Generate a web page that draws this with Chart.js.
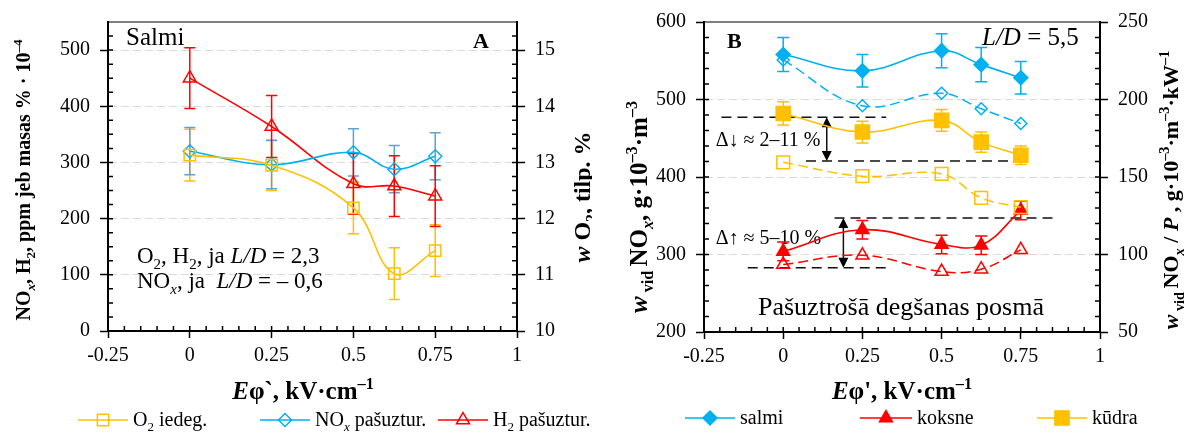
<!DOCTYPE html>
<html lang="lv">
  <head>
    <meta charset="UTF-8" />
    <title>NOx, H2, O2 un Eφ</title>
    <script src="https://cdn.jsdelivr.net/npm/chart.js"></script>
    <style>
      html, body { margin: 0; padding: 0; background: #fff; }
      .row { display: flex; width: 1184px; height: 435px; }
      .panel { width: 592px; height: 435px; }
    </style>
  </head>
  <body>
    <div class="row">
      <div class="panel"><canvas id="chartA" width="592" height="435"></canvas></div>
      <div class="panel"><canvas id="chartB" width="592" height="435"></canvas></div>
    </div>

    <script>
      // --- data ---
      const xVals = [0, 0.25, 0.5, 0.625, 0.75];
      const xTickLabels = ["-0.25", "0", "0.25", "0.5", "0.75", "1"];

      // panel A (O2 on the right axis, tilp. %)
      const o2Ignition = [13.13, 12.95, 12.19, 11.02, 11.43];
      const o2IgnitionErr = [0.46, 0.45, 0.46, 0.46, 0.46];
      const noxSelfSustained = [320, 296, 318, 288, 311];
      const noxSelfSustainedErr = [42, 43, 42, 42, 42];
      const h2SelfSustained = [450, 364, 262, 258, 240];
      const h2SelfSustainedErr = [54, 55, 54, 54, 54];

      // panel B (solid = left axis, dashed = right axis "/ P")
      const salmiMean = [558, 537, 563, 545, 528];
      const salmiErr = [22, 21, 22, 22, 21];
      const salmiPerP = [225.5, 196, 204, 194, 184.5];
      const koksneMean = [304, 332, 313, 312, 357];
      const koksneErr = [12, 12, 12, 12, 12];
      const koksnePerP = [93.5, 99.5, 89, 90.5, 103];
      const kudraMean = [482, 458, 473, 445, 428];
      const kudraErr = [15, 14, 14, 13, 12];
      const kudraPerP = [159.5, 150.5, 152, 136.5, 130.5];

      // panel B reference lines and arrows (left axis units)
      const refLineY = [477, 420.5, 347, 283];
      const refLineFrom = [-0.195, 0.072, 0.162, -0.112];
      const refLineTo = [0.325, 0.772, 0.86, 0.325];
      const arrowX = [0.1375, 0.19];
      const arrowTop = [477, 347];
      const arrowBottom = [420.5, 283];
      const deltaLabels = ["Δ↓ ≈ 2–11 %", "Δ↑ ≈ 5–10 %"];
      const deltaX = [-0.213, -0.213];
      const deltaY = [440, 314];

      const FONT = '"Liberation Serif", "Times New Roman", serif';
      const BLACK = "#000";
      const ORANGE = "#FFC000";
      const BLUE = "#00B0F0";
      const RED = "#FF0000";
      const GRID = "#D9D9D9";

      const pts = (ys) => xVals.map((x, i) => ({ x, y: ys[i] }));

      // text with sub/superscripts: [text, flags] where i = italic, _ = sub, ^ = sup
      function runFont(flags, size, bold) {
        const small = flags.includes("_") || flags.includes("^");
        const s = small ? size * 0.65 : size;
        return (flags.includes("i") ? "italic " : "") + (bold ? "bold " : "") + s.toFixed(1) + "px " + FONT;
      }
      function drawRich(ctx, t) {
        const { runs, x, y, size, bold = false, align = "left", rotate = false } = t;
        ctx.save();
        ctx.translate(x, y);
        if (rotate) ctx.rotate(-Math.PI / 2);
        let w = 0;
        runs.forEach(([s, f]) => { ctx.font = runFont(f, size, bold); w += ctx.measureText(s).width; });
        let cx = align === "center" ? -w / 2 : align === "right" ? -w : 0;
        ctx.textAlign = "left";
        ctx.textBaseline = "alphabetic";
        ctx.fillStyle = BLACK;
        runs.forEach(([s, f]) => {
          ctx.font = runFont(f, size, bold);
          const dy = f.includes("_") ? size * 0.25 : f.includes("^") ? -size * 0.4 : 0;
          ctx.fillText(s, cx, dy);
          cx += ctx.measureText(s).width;
        });
        ctx.restore();
      }

      function drawMarker(ctx, style, x, y, r, color, filled) {
        ctx.save();
        ctx.beginPath();
        if (style === "rect") {
          const s = Math.SQRT1_2 * r;
          ctx.rect(x - s, y - s, 2 * s, 2 * s);
        } else if (style === "rectRot") {
          ctx.moveTo(x - r, y); ctx.lineTo(x, y - r); ctx.lineTo(x + r, y); ctx.lineTo(x, y + r);
          ctx.closePath();
        } else {
          for (let k = 0; k < 3; k++) {
            const a = (k * 2 * Math.PI) / 3;
            const px = x + Math.sin(a) * r, py = y - Math.cos(a) * r;
            k ? ctx.lineTo(px, py) : ctx.moveTo(px, py);
          }
          ctx.closePath();
        }
        ctx.lineWidth = 1.5;
        ctx.strokeStyle = color;
        if (filled) { ctx.fillStyle = color; ctx.fill(); }
        ctx.stroke();
        ctx.restore();
      }

      function series(ys, errs, axis, color, style, r, filled, dashed, errColor) {
        return {
          data: pts(ys),
          yAxisID: axis,
          borderColor: color,
          borderWidth: dashed ? 1.5 : 1.6,
          borderDash: dashed ? [10, 5] : [],
          tension: 0.4,
          fill: false,
          pointStyle: style,
          pointRadius: r,
          pointBorderWidth: 1.5,
          pointBorderColor: color,
          pointBackgroundColor: filled ? color : "rgba(0,0,0,0)",
          errors: errs,
          errColor: errColor || color,
        };
      }

      function xAxis() {
        return {
          type: "linear",
          min: -0.25,
          max: 1,
          afterFit: (s) => { s.height = 40; },
          ticks: {
            stepSize: 0.25,
            autoSkip: false,
            maxRotation: 0,
            color: BLACK,
            padding: 6,
            font: { family: FONT, size: 20 },
            callback: (v) => xTickLabels.find((l) => Math.abs(parseFloat(l) - v) < 1e-6) ?? "",
          },
          grid: { drawOnChartArea: false, tickColor: BLACK, tickLength: 7, tickWidth: 1.5 },
          border: { color: BLACK, width: 2 },
        };
      }

      function yAxis(pos, min, max, step, width, gridOn) {
        return {
          type: "linear",
          position: pos,
          min,
          max,
          afterBuildTicks: (s) => {
            s.ticks = s.ticks.filter((t) => Math.abs(t.value / step - Math.round(t.value / step)) < 1e-6);
          },
          afterFit: (s) => { s.width = width; },
          ticks: { stepSize: step, color: BLACK, padding: 10, font: { family: FONT, size: 20 } },
          grid: {
            drawOnChartArea: gridOn,
            color: (c) => (c.tick && c.tick.value > min && c.tick.value < max ? GRID : "rgba(0,0,0,0)"),
            tickColor: BLACK,
            tickLength: 8,
            tickWidth: 1.5,
          },
          border: { color: BLACK, width: 2, dash: [8, 4] },
        };
      }

      function minorTicks(ctx, scale, step, side, area) {
        const n = Math.round((scale.max - scale.min) / step);
        ctx.beginPath();
        for (let k = 1; k < n; k++) {
          const p = scale.getPixelForValue(scale.min + k * step);
          if (side === "left") { ctx.moveTo(area.left, p); ctx.lineTo(area.left + 5, p); }
          else if (side === "right") { ctx.moveTo(area.right, p); ctx.lineTo(area.right - 5, p); }
          else { ctx.moveTo(p, area.bottom); ctx.lineTo(p, area.bottom - 5); }
        }
        ctx.stroke();
      }

      function extras(cfg) {
        return {
          id: "extras",
          beforeDatasetsDraw(chart) {
            const ctx = chart.ctx;
            const xs = chart.scales.x;
            const yl = chart.scales.y;
            // reference lines + arrows
            if (cfg.refs) {
              ctx.save();
              ctx.strokeStyle = "#111";
              ctx.lineWidth = 1.5;
              ctx.setLineDash([10, 6]);
              refLineY.forEach((v, i) => {
                ctx.beginPath();
                ctx.moveTo(xs.getPixelForValue(refLineFrom[i]), yl.getPixelForValue(v));
                ctx.lineTo(xs.getPixelForValue(refLineTo[i]), yl.getPixelForValue(v));
                ctx.stroke();
              });
              ctx.setLineDash([]);
              ctx.fillStyle = "#000";
              arrowX.forEach((xv, i) => {
                const px = xs.getPixelForValue(xv);
                const t = yl.getPixelForValue(arrowTop[i]);
                const b = yl.getPixelForValue(arrowBottom[i]);
                ctx.beginPath(); ctx.moveTo(px, t + 8); ctx.lineTo(px, b - 8); ctx.stroke();
                ctx.beginPath(); ctx.moveTo(px, t); ctx.lineTo(px - 5, t + 10); ctx.lineTo(px + 5, t + 10); ctx.closePath(); ctx.fill();
                ctx.beginPath(); ctx.moveTo(px, b); ctx.lineTo(px - 5, b - 10); ctx.lineTo(px + 5, b - 10); ctx.closePath(); ctx.fill();
              });
              ctx.restore();
              deltaLabels.forEach((l, i) =>
                drawRich(ctx, { runs: [[l, ""]], x: xs.getPixelForValue(deltaX[i]), y: yl.getPixelForValue(deltaY[i]), size: 20 })
              );
            }
            // error bars
            chart.data.datasets.forEach((ds) => {
              if (!ds.errors) return;
              const ys = chart.scales[ds.yAxisID];
              ctx.save();
              ctx.strokeStyle = ds.errColor;
              ctx.lineWidth = 1.5;
              ds.data.forEach((p, i) => {
                const e = ds.errors[i];
                const px = xs.getPixelForValue(p.x);
                const top = ys.getPixelForValue(p.y + e);
                const bot = ys.getPixelForValue(p.y - e);
                ctx.beginPath();
                ctx.moveTo(px, top); ctx.lineTo(px, bot);
                ctx.moveTo(px - cfg.cap, top); ctx.lineTo(px + cfg.cap, top);
                ctx.moveTo(px - cfg.cap, bot); ctx.lineTo(px + cfg.cap, bot);
                ctx.stroke();
              });
              ctx.restore();
            });
          },
          afterDraw(chart) {
            const ctx = chart.ctx;
            const a = chart.chartArea;
            ctx.save();
            ctx.strokeStyle = BLACK;
            ctx.lineWidth = 1.5;
            minorTicks(ctx, chart.scales.y, cfg.minorY, "left", a);
            minorTicks(ctx, chart.scales.y2, cfg.minorY2, "right", a);
            minorTicks(ctx, chart.scales.x, 0.05, "bottom", a);
            ctx.lineWidth = 1.2;
            ctx.beginPath(); ctx.moveTo(a.left, a.top); ctx.lineTo(a.right, a.top); ctx.stroke();
            ctx.restore();

            cfg.texts.forEach((t) => drawRich(ctx, t));

            cfg.legend.forEach((item) => {
              ctx.save();
              ctx.strokeStyle = item.color;
              ctx.lineWidth = 1.5;
              ctx.beginPath(); ctx.moveTo(item.x1, cfg.legendY); ctx.lineTo(item.x2, cfg.legendY); ctx.stroke();
              ctx.restore();
              drawMarker(ctx, item.style, (item.x1 + item.x2) / 2, cfg.legendY, item.r, item.color, item.filled);
              drawRich(ctx, { runs: item.runs, x: item.x2 + 5, y: cfg.legendY + 6, size: 20 });
            });
          },
        };
      }

      function makeChart(id, cfg) {
        return new Chart(document.getElementById(id), {
          type: "line",
          data: { datasets: cfg.datasets },
          options: {
            responsive: false,
            animation: false,
            devicePixelRatio: 1,
            layout: { padding: cfg.padding },
            plugins: { legend: { display: false }, tooltip: { enabled: false } },
            scales: {
              x: xAxis(),
              y: yAxis("left", cfg.y[0], cfg.y[1], cfg.y[2], 60, true),
              y2: yAxis("right", cfg.y2[0], cfg.y2[1], cfg.y2[2], 48, false),
            },
          },
          plugins: [extras(cfg)],
        });
      }

      // --- panel A ---
      makeChart("chartA", {
        padding: { left: 48, right: 27, top: 19, bottom: 64 },
        y: [0, 550, 100],
        y2: [10, 15.5, 1],
        minorY: 25,
        minorY2: 0.25,
        cap: 5.5,
        datasets: [
          series(o2Ignition, o2IgnitionErr, "y2", ORANGE, "rect", 8, false, false),
          series(noxSelfSustained, noxSelfSustainedErr, "y", BLUE, "rectRot", 6.5, false, false, "#5FA3D0"),
          series(h2SelfSustained, h2SelfSustainedErr, "y", RED, "triangle", 7.5, false, false),
        ],
        texts: [
          { runs: [["Salmi", ""]], x: 126, y: 45, size: 25 },
          { runs: [["A", ""]], x: 473, y: 48, size: 22, bold: true },
          { runs: [["O", ""], ["2", "_"], [", H", ""], ["2", "_"], [", ja ", ""], ["L/D", "i"], [" = 2,3", ""]], x: 137, y: 263, size: 23 },
          { runs: [["NO", ""], ["x", "i_"], [", ja  ", ""], ["L/D", "i"], [" = – 0,6", ""]], x: 137, y: 288, size: 23 },
          { runs: [["E", "i"], ["φ`, kV·cm", ""], ["–1", "^"]], x: 303, y: 399, size: 25, bold: true, align: "center" },
          { runs: [["NO", ""], ["x", "i_"], [", H", ""], ["2", "_"], [", ppm jeb masas % · 10", ""], ["–4", "^"]], x: 30, y: 180, size: 20, bold: true, align: "center", rotate: true },
          { runs: [["w", "i"], [" O", ""], ["2", "_"], [", tilp. %", ""]], x: 590, y: 197, size: 24, bold: true, align: "center", rotate: true },
        ],
        legendY: 420,
        legend: [
          { x1: 78, x2: 128, color: ORANGE, style: "rect", r: 8, filled: false, runs: [["O", ""], ["2", "_"], [" iedeg.", ""]] },
          { x1: 260, x2: 310, color: BLUE, style: "rectRot", r: 6.5, filled: false, runs: [["NO", ""], ["x", "i_"], [" pašuztur.", ""]] },
          { x1: 438, x2: 488, color: RED, style: "triangle", r: 7.5, filled: false, runs: [["H", ""], ["2", "_"], [" pašuztur.", ""]] },
        ],
      });

      // --- panel B ---
      makeChart("chartB", {
        padding: { left: 52, right: 36, top: 19, bottom: 63 },
        y: [200, 600, 100],
        y2: [50, 250, 50],
        minorY: 20,
        minorY2: 10,
        cap: 6,
        refs: true,
        datasets: [
          series(salmiMean, salmiErr, "y", BLUE, "rectRot", 7, true, false),
          series(salmiPerP, null, "y2", BLUE, "rectRot", 6, false, true),
          series(kudraMean, kudraErr, "y", ORANGE, "rect", 10, true, false),
          series(kudraPerP, null, "y2", ORANGE, "rect", 9, false, true),
          series(koksneMean, koksneErr, "y", RED, "triangle", 7.5, true, false),
          series(koksnePerP, null, "y2", RED, "triangle", 7.5, false, true),
        ],
        texts: [
          { runs: [["B", ""]], x: 135, y: 48, size: 22, bold: true },
          { runs: [["L/D", "i"], [" = 5,5", ""]], x: 390, y: 45, size: 25 },
          { runs: [["Pašuztrošā degšanas posmā", ""]], x: 166, y: 315, size: 26 },
          { runs: [["E", "i"], ["φ', kV·cm", ""], ["–1", "^"]], x: 310, y: 399, size: 25, bold: true, align: "center" },
          { runs: [["w", "i"], [" vid ", "_"], ["NO", ""], ["x", "i_"], [", g·10", ""], ["–3", "^"], ["·m", ""], ["–3", "^"]], x: 55, y: 207, size: 25, bold: true, align: "center", rotate: true },
          { runs: [["w", "i"], [" vid ", "_"], ["NO", ""], ["x", "i_"], [" / ", ""], ["P", "i"], [" , g·10", ""], ["–3", "^"], ["·m", ""], ["–3", "^"], ["·kW", ""], ["–1", "^"]], x: 586, y: 190, size: 22, bold: true, align: "center", rotate: true },
        ],
        legendY: 418,
        legend: [
          { x1: 93, x2: 143, color: BLUE, style: "rectRot", r: 7, filled: true, runs: [["salmi", ""]] },
          { x1: 268, x2: 320, color: RED, style: "triangle", r: 7.5, filled: true, runs: [["koksne", ""]] },
          { x1: 445, x2: 495, color: ORANGE, style: "rect", r: 10, filled: true, runs: [["kūdra", ""]] },
        ],
      });
    </script>
  </body>
</html>
